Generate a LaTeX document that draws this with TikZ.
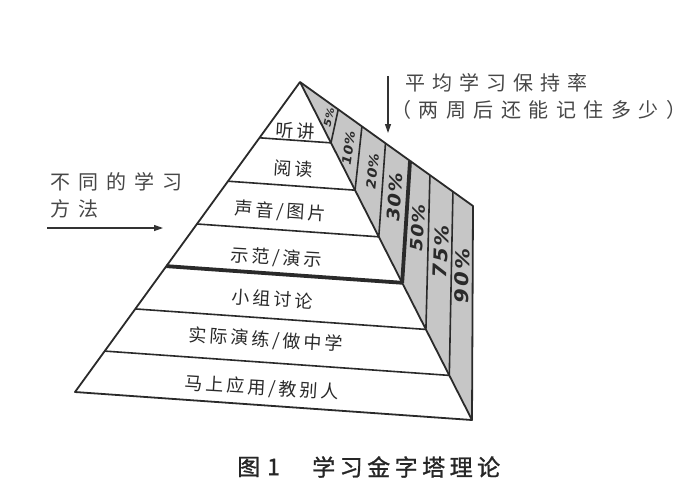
\documentclass[tikz,border=0pt]{standalone}
\usepackage{fontspec}
\newfontfamily\cjk{Noto Sans CJK SC}
\newfontfamily\cjkcap{Noto Sans CJK SC}[FakeBold=1.2]
\newfontfamily\pctfont{DejaVu Sans}
\usetikzlibrary{arrows.meta,calc}
\definecolor{ink}{HTML}{2A2A2A}
\definecolor{sidegray}{HTML}{C6C6C6}
\newcommand\spaced[2]{\def\myspgap{#1}\myspcloop#2\relax\relax}
\def\myspcloop#1#2{#1\ifx\relax#2\else\hspace{\myspgap}\expandafter\myspcloop\expandafter#2\fi}
\newcommand\pcttext[4]{\rotatebox{#1}{\pctfont\bfseries\itshape\fontsize{#2}{#2}\selectfont\scalebox{1.1}[1]{\spaced{#3}{#4}}}}
\newcommand\lvltext[1]{\rotatebox{-3.5}{\spaced{3pt}{#1}}}
\begin{document}
\begin{tikzpicture}[x=1pt,y=-1pt,
  edge/.style={draw=ink,line width=1.8pt,line join=round},
  thinedge/.style={draw=ink,line width=1.6pt},
  thickedge/.style={draw=ink,line width=3.8pt},
  lvl/.style={font=\cjk\fontsize{18}{20}\selectfont,text=ink,inner sep=0pt},
  pct/.style={text=ink,inner sep=0pt},
  note/.style={font=\cjk\fontsize{20}{22}\selectfont,text=black!72,anchor=west,inner sep=0pt},
  captxt/.style={font=\cjkcap\fontsize{23}{25}\selectfont,text=black!85,anchor=west,inner sep=0pt},
  arr/.style={draw=black!80,line width=1.2pt,-{Triangle[length=9pt,width=6pt]}}]
\useasboundingbox (0,0) rectangle (700,488);
\fill[white] (0,0) rectangle (700,488);
% main corners
\coordinate (A) at (300,82);
\coordinate (BL) at (75,392);
\coordinate (BR) at (472,420);
\coordinate (TR) at (473,206);
\foreach \n/\t in {1/0.18,2/0.32,3/0.458,4/0.594,5/0.732,6/0.868}{
  \coordinate (L\n) at ($(A)!\t!(BL)$);
  \coordinate (R\n) at ($(A)!\t!(BR)$);
}
\foreach \n/\t in {1/0.221,2/0.358,3/0.494,4/0.636,5/0.751,6/0.884}{
  \coordinate (T\n) at ($(A)!\t!(TR)$);
}
% faces
\fill[sidegray] (A) -- (TR) -- (BR) -- cycle;
\fill[white] (A) -- (BL) -- (BR) -- cycle;
% level lines
\foreach \n in {1,2,3,5,6}{ \draw[thinedge] (L\n) -- (R\n); }
\draw[thickedge] (L4) -- (R4);
% dividers on side face
\foreach \n in {1,2,3,5,6}{ \draw[thinedge] (T\n) -- (R\n); }
\draw[thickedge] (T4) -- (R4);
% outline
\draw[edge] (A) -- (BL) -- (BR) -- (TR) -- cycle;
\draw[edge] (A) -- (BR);
% level labels
\node[lvl] (l1) at (295.5,131) {\lvltext{听讲}};
\node[lvl] (l2) at (293,168.5) {\lvltext{阅读}};
\node[lvl] (l3) at (280,211.5) {\lvltext{声音/图片}};
\node[lvl] (l4) at (276.5,258) {\lvltext{示范/演示}};
\node[lvl] (l5) at (272.5,299) {\lvltext{小组讨论}};
\node[lvl] (l6) at (265.5,340) {\lvltext{实际演练/做中学}};
\node[lvl] (l7) at (261.5,388) {\lvltext{马上应用/教别人}};
% percentages
\node[pct] (p1) at (329,117) {\pcttext{77}{10}{0.5pt}{5\%}};
\node[pct] (p2) at (348.5,148) {\pcttext{82}{12.5}{0.5pt}{10\%}};
\node[pct] (p3) at (372.5,171) {\pcttext{84}{13}{0.5pt}{20\%}};
\node[pct] (p4) at (395,197) {\pcttext{86}{17.5}{1pt}{30\%}};
\node[pct] (p5) at (418,228) {\pcttext{87}{17}{1pt}{50\%}};
\node[pct] (p6) at (441,252) {\pcttext{88}{19}{1.5pt}{75\%}};
\node[pct] (p7) at (462,276) {\pcttext{89}{19}{2pt}{90\%}};
% left annotation
\node[note] (m1) at (50,181.5) {\spaced{8pt}{不同的学习}};
\node[note] (m2) at (50,208.5) {\spaced{8pt}{方法}};
\coordinate (la1) at (47,228);
\coordinate (la2) at (163,228);
\draw[arr] (la1) -- (la2);
% top-right annotation
\node[note] (r1) at (405,83) {\spaced{7pt}{平均学习保持率}};
\node[note] (r2) at (391,110) {\spaced{7.5pt}{（两周后还能记住多少）}};
\coordinate (da1) at (388,76);
\coordinate (da2) at (388,133);
\draw[arr] (da1) -- (da2);
% caption
\node[captxt] (c1) at (237,467) {图\hspace{7pt}1};
\node[captxt] (c2) at (312,467) {\spaced{4.5pt}{学习金字塔理论}};
\end{tikzpicture}
\end{document}
